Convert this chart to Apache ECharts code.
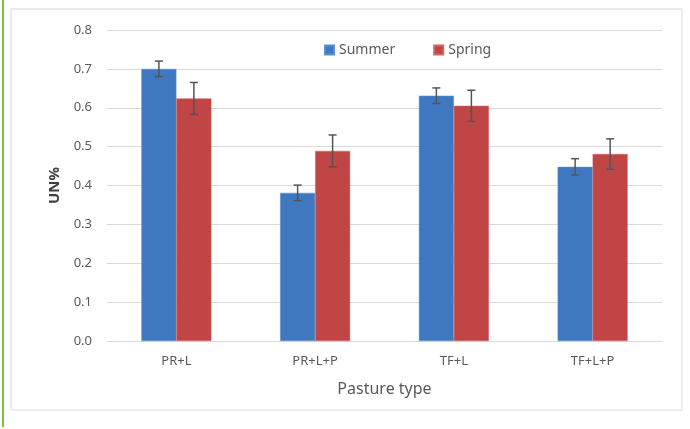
<!DOCTYPE html>
<html>
<head>
<meta charset="utf-8">
<script src="https://cdn.jsdelivr.net/npm/echarts@6/dist/echarts.min.js"></script>
<style>
html,body{margin:0;padding:0;background:#fff;}
#c{width:690px;height:429px;}
</style>
</head>
<body>
<div id="c"></div>
<script>
const categories = ['PR+L', 'PR+L+P', 'TF+L', 'TF+L+P'];
const summerValues = [0.700, 0.381, 0.631, 0.448];
const summerErrors = [0.020, 0.020, 0.020, 0.021];
const springValues = [0.624, 0.489, 0.605, 0.481];
const springErrors = [0.041, 0.041, 0.040, 0.039];
const yTicks = [0, 0.1, 0.2, 0.3, 0.4, 0.5, 0.6, 0.7, 0.8];

const BAR_W = 35;
const textColor = '#595959';
const font = 'Noto Sans';

function errData(vals, errs) {
  return vals.map((v, i) => [i, v - errs[i], v + errs[i]]);
}
function errSeries(name, vals, errs, offset) {
  return {
    type: 'custom',
    name: name + ' err',
    z: 10,
    silent: true,
    data: errData(vals, errs),
    renderItem: function (params, api) {
      const lo = api.coord([api.value(0), api.value(1)]);
      const hi = api.coord([api.value(0), api.value(2)]);
      const x = lo[0] + offset;
      const cap = 4;
      const style = { stroke: '#555555', lineWidth: 1.5 };
      return {
        type: 'group',
        children: [
          { type: 'line', shape: { x1: x, y1: lo[1], x2: x, y2: hi[1] }, style: style },
          { type: 'line', shape: { x1: x - cap, y1: lo[1], x2: x + cap, y2: lo[1] }, style: style },
          { type: 'line', shape: { x1: x - cap, y1: hi[1], x2: x + cap, y2: hi[1] }, style: style }
        ]
      };
    }
  };
}

const chart = echarts.init(document.getElementById('c'), null, { renderer: 'canvas' });
chart.setOption({
  animation: false,
  backgroundColor: '#ffffff',
  textStyle: { fontFamily: font },
  graphic: [
    { type: 'rect', shape: { x: 2, y: 0, width: 2, height: 427 }, style: { fill: '#7cc242' } },
    { type: 'rect', shape: { x: 11, y: 9, width: 671, height: 401 }, style: { fill: 'none', stroke: '#d9d9d9', lineWidth: 1 } }
  ],
  legend: {
    data: ['Summer', 'Spring'],
    top: 38,
    left: 319,
    itemWidth: 9,
    itemHeight: 9,
    itemGap: 38,
    icon: 'rect',
    textStyle: { color: textColor, fontSize: 14, fontFamily: font }
  },
  grid: { left: 107, right: 28, top: 30, bottom: 88, containLabel: false },
  xAxis: {
    type: 'category',
    data: categories,
    name: 'Pasture type',
    nameLocation: 'middle',
    nameGap: 40,
    nameTextStyle: { color: textColor, fontSize: 16, fontFamily: font },
    axisLine: { lineStyle: { color: '#d9d9d9', width: 1 } },
    axisTick: { show: false },
    axisLabel: { color: textColor, fontSize: 13, margin: 14, fontFamily: font }
  },
  yAxis: {
    type: 'value',
    min: 0,
    max: 0.8,
    interval: 0.1,
    name: 'UN%',
    nameLocation: 'middle',
    nameGap: 45,
    nameTextStyle: { color: '#404040', fontSize: 15, fontWeight: 'bold', fontFamily: font },
    axisLine: { show: false },
    axisTick: { show: false },
    splitLine: { lineStyle: { color: '#d9d9d9', width: 1 } },
    axisLabel: {
      color: textColor, fontSize: 13, margin: 15, fontFamily: font,
      formatter: v => v.toFixed(1)
    }
  },
  series: [
    {
      name: 'Summer', type: 'bar', data: summerValues, barWidth: BAR_W, barGap: '0%',
      itemStyle: { color: '#4078BF', borderColor: '#5b8fd3', borderWidth: 0.5 }
    },
    {
      name: 'Spring', type: 'bar', data: springValues, barWidth: BAR_W, barGap: '0%',
      itemStyle: { color: '#BF4644', borderColor: '#d46361', borderWidth: 0.5 }
    },
    errSeries('Summer', summerValues, summerErrors, -BAR_W / 2),
    errSeries('Spring', springValues, springErrors, BAR_W / 2)
  ]
});
</script>
</body>
</html>
